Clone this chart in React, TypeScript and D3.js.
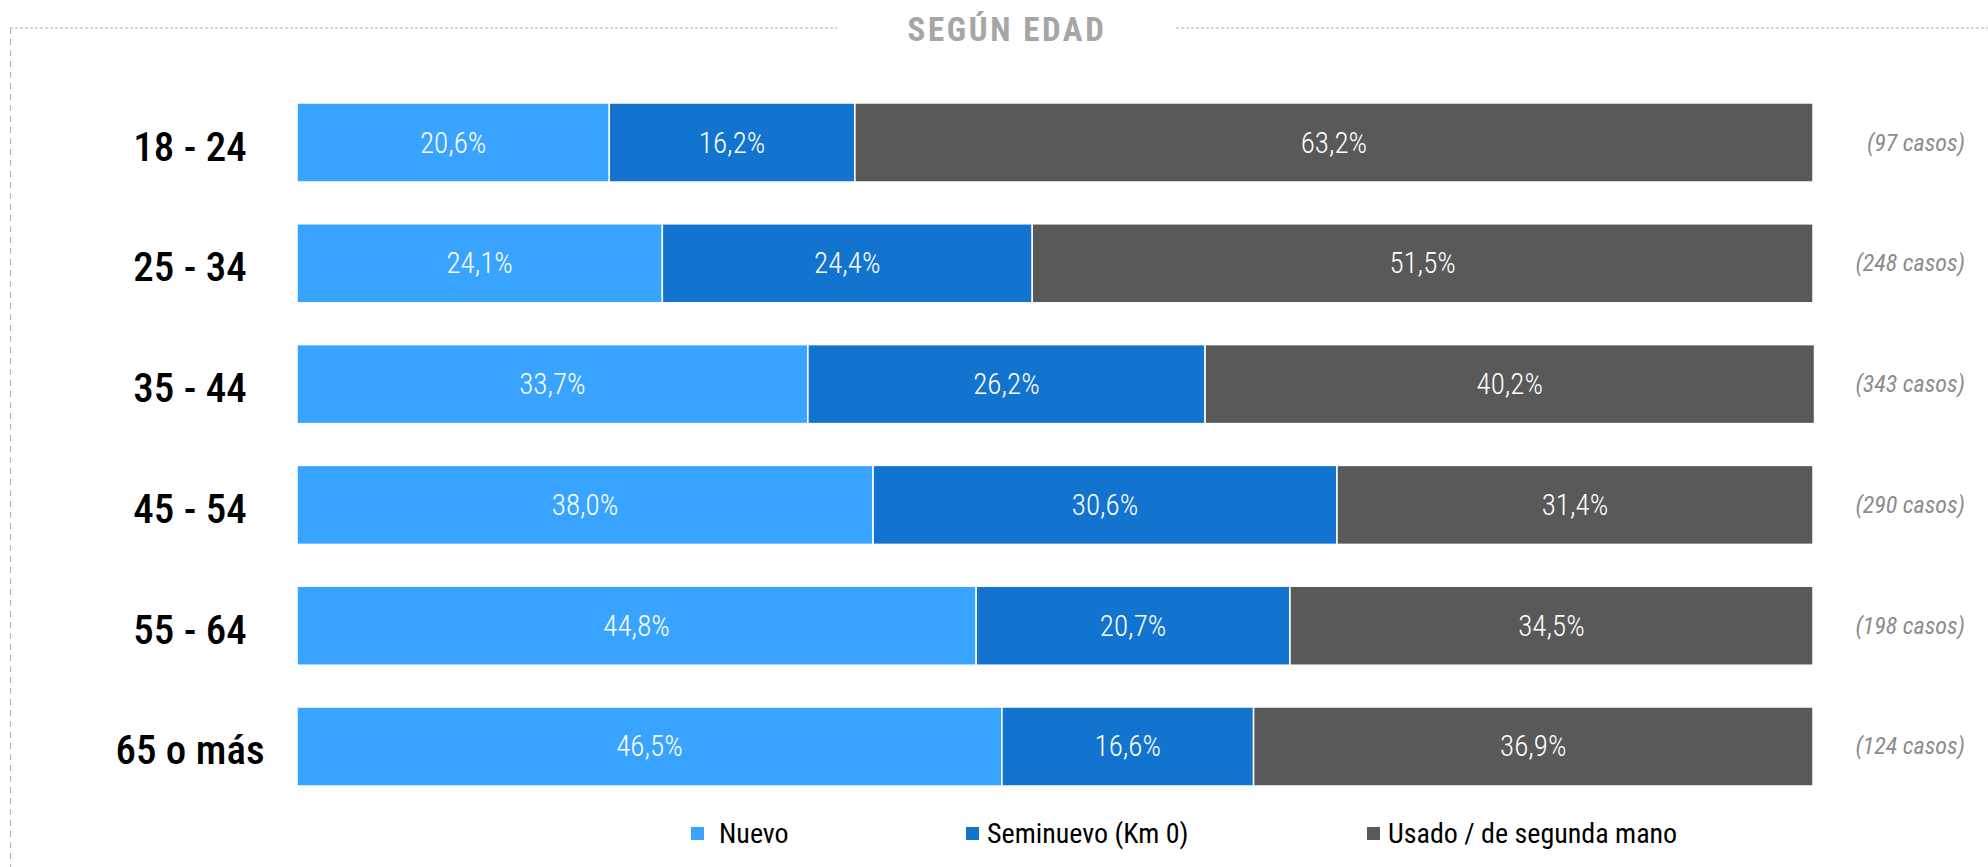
import React from "react";
import * as d3 from "d3";

const categories = ["18 - 24", "25 - 34", "35 - 44", "45 - 54", "55 - 64", "65 o más"];
const seriesNames = ["Nuevo", "Seminuevo (Km 0)", "Usado / de segunda mano"];
const nuevo = [20.6, 24.1, 33.7, 38.0, 44.8, 46.5];
const seminuevo = [16.2, 24.4, 26.2, 30.6, 20.7, 16.6];
const usado = [63.2, 51.5, 40.2, 31.4, 34.5, 36.9];
const casos = [97, 248, 343, 290, 198, 124];
const colors = ["#38A4FF", "#1374D0", "#595959"];

const W = 1988;
const H = 867;
const FONT = "'Liberation Sans Narrow', 'Roboto Condensed', 'Arial Narrow', sans-serif";

export default function App() {
  const x = d3.scaleLinear().domain([0, 100]).range([297, 1813]);
  const y = d3.scaleBand<string>().domain(categories).range([103, 786]).paddingInner(0.346).paddingOuter(0);
  const rows = categories.map((c, i) => ({ cat: c, Nuevo: nuevo[i], Semi: seminuevo[i], Usado: usado[i] }));
  const stack = d3.stack<any>().keys(["Nuevo", "Semi", "Usado"])(rows);
  const fmt = (v: number) => v.toFixed(1).replace(".", ",") + "%";
  const legendX = [691, 966, 1367];

  return (
    <svg width={W} height={H} style={{ position: "absolute", left: 0, top: 0, background: "#fff" }}>
      {/* frame */}
      <line x1={10} x2={837} y1={28} y2={28} stroke="#B0B0B0" strokeWidth={1} strokeDasharray="3,2" />
      <line x1={1176} x2={W} y1={28} y2={28} stroke="#B0B0B0" strokeWidth={1} strokeDasharray="3,2" />
      <line x1={10.5} x2={10.5} y1={28} y2={H} stroke="#B0B0B0" strokeWidth={1} strokeDasharray="6,5" />
      <text x={1007} y={41} textAnchor="middle" fill="#A6A6A6" fontFamily={FONT} fontWeight="bold" fontSize={33} letterSpacing={2.6}>
        SEGÚN EDAD
      </text>

      {stack.map((s, si) => (
        <g key={si}>
          {s.map((d, i) => (
            <g key={i}>
              <rect
                x={x(d[0])}
                y={y(categories[i])}
                width={x(d[1]) - x(d[0])}
                height={y.bandwidth()}
                fill={colors[si]}
                stroke="#fff"
                strokeWidth={1.5}
              />
              <text
                x={(x(d[0]) + x(d[1])) / 2}
                y={(y(categories[i]) as number) + y.bandwidth() / 2 + 10}
                textAnchor="middle"
                fill="#fff"
                fontFamily={FONT}
                fontWeight={300}
                fontSize={29}
              >
                {fmt(d[1] - d[0])}
              </text>
            </g>
          ))}
        </g>
      ))}

      {categories.map((c, i) => (
        <text
          key={c}
          x={190}
          y={(y(c) as number) + y.bandwidth() / 2 + 18}
          textAnchor="middle"
          fill="#000"
          fontFamily={FONT}
          fontWeight={500}
          fontSize={41}
        >
          {c}
        </text>
      ))}

      {casos.map((n, i) => (
        <text
          key={i}
          x={1965}
          y={(y(categories[i]) as number) + y.bandwidth() / 2 + 8}
          textAnchor="end"
          fill="#8C8C8C"
          fontFamily={FONT}
          fontStyle="italic"
          fontSize={24}
        >
          ({n} casos)
        </text>
      ))}

      {seriesNames.map((s, i) => (
        <g key={s}>
          <rect x={legendX[i]} y={827} width={13} height={13} fill={colors[i]} />
          <text x={legendX[i] + (i === 0 ? 28 : 21)} y={843} fill="#000" fontFamily={FONT} fontSize={28}>
            {s}
          </text>
        </g>
      ))}
    </svg>
  );
}
